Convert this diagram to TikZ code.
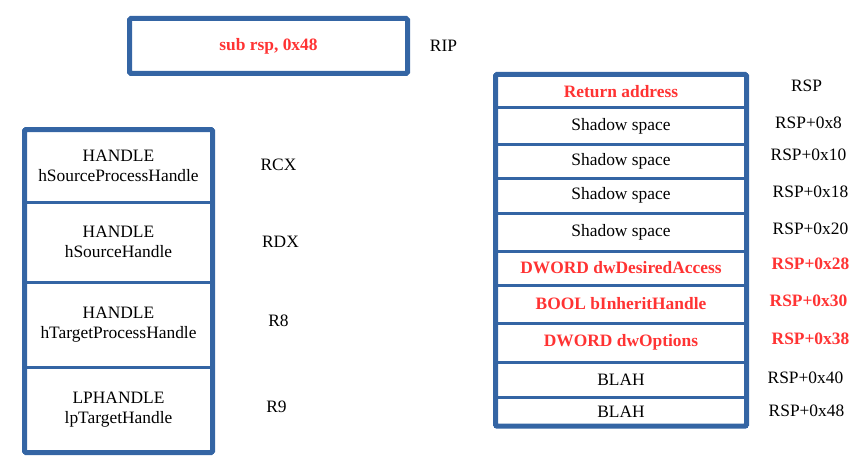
\documentclass[tikz,border=0pt]{standalone}
\usepackage{fontspec}
\setmainfont{Liberation Serif}
\usepackage{xcolor}
\definecolor{Frame}{HTML}{3465A4}
\definecolor{Alert}{HTML}{FF3333}
\usepackage{tikz}
\usetikzlibrary{positioning,fit}

\begin{document}
\begin{tikzpicture}[x=1pt,y=-1pt,node distance=0pt,
  every node/.style={font=\fontsize{17.4}{20}\selectfont,align=center,inner sep=0pt,outer sep=0pt},
  lcell/.style={draw=Frame,line width=3pt,minimum width=188},
  rcell/.style={draw=Frame,line width=3pt,minimum width=251},
  hot/.style={text=Alert,font=\fontsize{17.4}{20}\selectfont\bfseries},
  frame/.style={draw=Frame,line width=5pt,rounded corners=1.5pt,inner sep=0pt}]
\useasboundingbox (0,0) rectangle (863,460);
% instruction
\node[draw=Frame,line width=5pt,rounded corners=1.5pt,minimum width=278,minimum height=55,hot] (sub) at (268.5,46) {sub rsp, 0x48};
\node at ([xshift=36pt]sub.east) (rip) {RIP};
% register arguments
\node[lcell,minimum height=72.5] (l1) at (118.5,165.75) {HANDLE\\hSourceProcessHandle};
\node[lcell,minimum height=80,below=of l1] (l2) {HANDLE\\hSourceHandle};
\node[lcell,minimum height=85,below=of l2] (l3) {HANDLE\\hTargetProcessHandle};
\node[lcell,minimum height=85.5,below=of l3] (l4) {LPHANDLE\\lpTargetHandle};
\node[frame,fit=(l1)(l4)] (regs) {};
\node at ([xshift=66pt,yshift=1pt]l1.east) (rcx) {RCX};
\node at ([xshift=68pt,yshift=0pt]l2.east) (rdx) {RDX};
\node at ([xshift=66pt,yshift=4pt]l3.east) (r8) {R8};
\node at ([xshift=64pt,yshift=3pt]l4.east) (r9) {R9};
% stack
\node[rcell,minimum height=33.5,hot] (s1) at (621,91.25) {Return address};
\node[rcell,minimum height=36,below=of s1] (s2) {Shadow space};
\node[rcell,minimum height=34,below=of s2] (s3) {Shadow space};
\node[rcell,minimum height=35,below=of s3] (s4) {Shadow space};
\node[rcell,minimum height=38,below=of s4] (s5) {Shadow space};
\node[rcell,minimum height=34,below=of s5,hot] (s6) {DWORD dwDesiredAccess};
\node[rcell,minimum height=38,below=of s6,hot] (s7) {BOOL bInheritHandle};
\node[rcell,minimum height=39,below=of s7,hot] (s8) {DWORD dwOptions};
\node[rcell,minimum height=35,below=of s8] (s9) {BLAH};
\node[rcell,minimum height=29,below=of s9] (s10) {BLAH};
\node[frame,fit=(s1)(s10)] (stack) {};
\node at ([xshift=60pt,yshift=5pt]s1.east) (o0) {RSP};
\node at ([xshift=62pt,yshift=3pt]s2.east) (o8) {RSP+0x8};
\node at ([xshift=62pt,yshift=6pt]s3.east) (o10) {RSP+0x10};
\node at ([xshift=64pt,yshift=4pt]s4.east) (o18) {RSP+0x18};
\node at ([xshift=64pt,yshift=3pt]s5.east) (o20) {RSP+0x20};
\node[hot] at ([xshift=64pt,yshift=4pt]s6.east) (o28) {RSP+0x28};
\node[hot] at ([xshift=62pt,yshift=3pt]s7.east) (o30) {RSP+0x30};
\node[hot] at ([xshift=64pt,yshift=4pt]s8.east) (o38) {RSP+0x38};
\node at ([xshift=59pt,yshift=2pt]s9.east) (o40) {RSP+0x40};
\node at ([xshift=60pt,yshift=1pt]s10.east) (o48) {RSP+0x48};
\end{tikzpicture}
\end{document}
